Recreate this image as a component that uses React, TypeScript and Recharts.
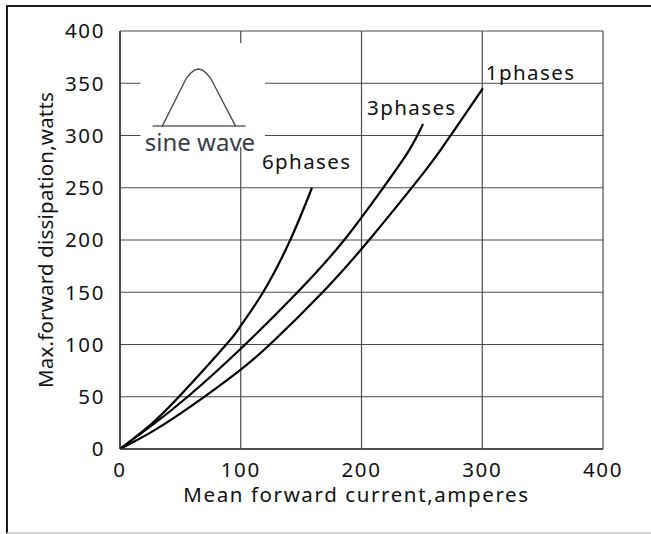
import React from 'react';
import { LineChart, Line, XAxis, YAxis, CartesianGrid, ReferenceArea, ReferenceLine } from 'recharts';

const xTicks = [0, 100, 200, 300, 400];
const yTicks = [0, 50, 100, 150, 200, 250, 300, 350, 400];

const sixPhase = [
  { x: 0, y: 0 }, { x: 24, y: 22 }, { x: 48, y: 49 }, { x: 88, y: 100 },
  { x: 100, y: 118 }, { x: 118, y: 149 }, { x: 141, y: 200 }, { x: 159, y: 250 },
];
const threePhase = [
  { x: 0, y: 0 }, { x: 28, y: 24 }, { x: 56, y: 50 }, { x: 100, y: 96 },
  { x: 147, y: 150 }, { x: 185, y: 199 }, { x: 218, y: 250 }, { x: 239, y: 285 }, { x: 251, y: 311 },
];
const onePhase = [
  { x: 0, y: 0 }, { x: 30, y: 19 }, { x: 68.6, y: 49 }, { x: 100, y: 76 }, { x: 125, y: 101 },
  { x: 167, y: 149 }, { x: 205.6, y: 199 }, { x: 243, y: 252 }, { x: 266.6, y: 288 }, { x: 300.5, y: 345 },
];

// decorative "sine wave" inset, in data units
const sineShape = [
  { x: 35, y: 309 }, { x: 55, y: 355 }, { x: 58.5, y: 359.5 }, { x: 61.5, y: 362.5 }, { x: 65, y: 363.6 },
  { x: 68.5, y: 362.5 }, { x: 71.5, y: 359.5 }, { x: 75, y: 355 }, { x: 95.7, y: 309 },
];
const sineBase = [{ x: 27, y: 309 }, { x: 104, y: 309 }];
const insetBox = { x1: 17, x2: 120, y1: 289, y2: 388.5 };

const FONT = '"Noto Sans", "Open Sans", sans-serif';
const textStyle = { fontFamily: FONT, fontSize: 20.5, fill: '#111', letterSpacing: 1.6 };

const endLabel = (text: string, len: number, dx: number, dy: number) => (props: any) => {
  if (props.index !== len - 1) return null;
  return (
    <text x={props.x + dx} y={props.y + dy} textAnchor="start" style={{ ...textStyle, letterSpacing: 1.4 } as any}>
      {text}
    </text>
  );
};

const sineLabel = (props: any) => {
  if (props.index !== 4) return null;
  return (
    <text x={props.x + 1.5} y={props.y + 82} textAnchor="middle"
      style={{ fontFamily: FONT, fontSize: 24, fill: '#3a3e46' }}>
      sine wave
    </text>
  );
};

export default function App() {
  return (
    <div style={{ position: 'absolute', left: 0, top: 0, width: 651, height: 534, background: '#fff', overflow: 'hidden' }}>
      <div style={{
        position: 'absolute', left: 6, top: 5, width: 660, height: 529, boxSizing: 'border-box',
        borderTop: '2px solid #1a1a1a', borderLeft: '2px solid #1a1a1a', borderBottom: '2px solid #d4d4d4',
      }} />
      <div style={{ position: 'absolute', left: 0, top: 0 }}>
        <LineChart width={651} height={534} margin={{ top: 31, right: 48, bottom: 0, left: 0 }}>
          <CartesianGrid stroke="#4a4a4a" strokeWidth={1.2} />
          <XAxis type="number" dataKey="x" domain={[0, 400]} ticks={xTicks} height={85}
            tickLine={false} tickMargin={7} axisLine={{ stroke: '#333', strokeWidth: 1.5 }}
            tick={textStyle} interval={0} allowDataOverflow
            label={{
              content: (p: any) => (
                <text x={p.viewBox.x + p.viewBox.width / 2 - 5} y={p.viewBox.y + 53} textAnchor="middle" style={textStyle as any}>
                  Mean forward current,amperes
                </text>
              ),
            }} />
          <YAxis type="number" domain={[0, 400]} ticks={yTicks} width={120}
            tickLine={false} tickMargin={9} axisLine={{ stroke: '#333', strokeWidth: 1.5 }}
            tick={textStyle} interval={0} allowDataOverflow
            label={{
              content: (p: any) => {
                const cx = p.viewBox.x + 53;
                const cy = p.viewBox.y + p.viewBox.height / 2;
                return (
                  <text x={cx} y={cy} transform={`rotate(-90 ${cx} ${cy})`} textAnchor="middle"
                    style={{ ...textStyle, letterSpacing: 0.2 } as any}>
                    Max.forward dissipation,watts
                  </text>
                );
              },
            }} />
          <ReferenceArea x1={insetBox.x1} x2={insetBox.x2} y1={insetBox.y1} y2={insetBox.y2}
            fill="#fff" fillOpacity={1} stroke="none" ifOverflow="visible" />
          <ReferenceLine segment={sineBase} stroke="#888" strokeWidth={2} />
          <Line data={sineShape} dataKey="y" type="linear" stroke="#444" strokeWidth={1.3} dot={false}
            isAnimationActive={false} label={sineLabel} />
          <Line data={sixPhase} dataKey="y" type="natural" stroke="#000" strokeWidth={2.2} dot={false}
            isAnimationActive={false} label={endLabel('6phases', sixPhase.length, -50, -19)} />
          <Line data={threePhase} dataKey="y" type="natural" stroke="#000" strokeWidth={2.2} dot={false}
            isAnimationActive={false} label={endLabel('3phases', threePhase.length, -56, -9)} />
          <Line data={onePhase} dataKey="y" type="natural" stroke="#000" strokeWidth={2.2} dot={false}
            isAnimationActive={false} label={endLabel('1phases', onePhase.length, 3, -8)} />
        </LineChart>
      </div>
    </div>
  );
}
